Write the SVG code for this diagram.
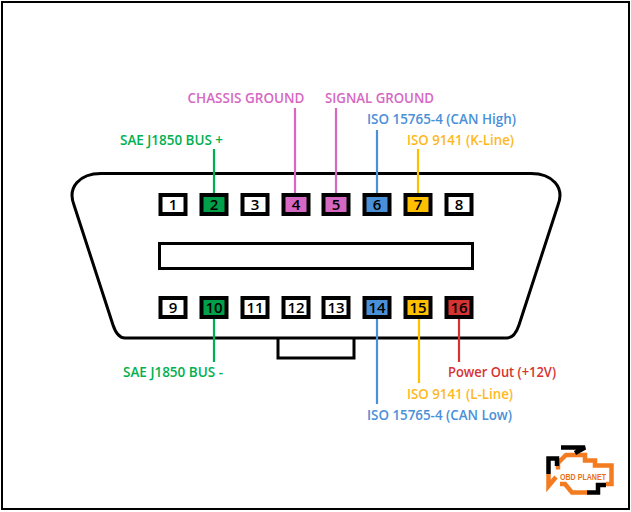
<svg xmlns="http://www.w3.org/2000/svg" width="631" height="512" viewBox="0 0 631 512">
<style>
.pin{stroke:#000;stroke-width:4;fill:#fff}
.n{font-family:"Open Sans","Liberation Sans",sans-serif;font-size:15px;font-weight:600;text-anchor:middle;fill:#000}
.l{font-family:"Open Sans","Liberation Sans",sans-serif;font-size:14px;font-weight:600;text-anchor:start}
.c{stroke-width:2.200;fill:none}
.s{fill:none;stroke:#000;stroke-width:3}
.lo{fill:none;stroke:#f47c20;stroke-width:4.500;stroke-linejoin:miter}
.lb{fill:none;stroke:#000;stroke-width:4.500;stroke-linejoin:miter}
</style>
<rect width="631" height="512" fill="#fff"/>
<rect id="frame" x="2" y="2" width="627" height="507" fill="none" stroke="#000" stroke-width="2"/>
<g id="connector-body">
<path class="s" d="M278 338V358H354V338"/>
<path class="s" d="M101 173.500H531C552 173.500 565 187 558 205L519 325C516 334 512 338 507 338H125C120 338 116 334 113 325L74 205C67 187 80 173.500 101 173.500Z"/>
<rect class="s" x="159.500" y="243.500" width="313" height="25"/>
</g>
<g id="connectors">
<path class="c" stroke="#00b050" d="M214 149V193M214 318V362"/>
<path class="c" stroke="#d668c4" d="M295 108V193M336 108V193"/>
<path class="c" stroke="#4a90d9" d="M377 130V193M377 318V404"/>
<path class="c" stroke="#ffc000" d="M418 149V193M419 318V383"/>
<path class="c" stroke="#d63333" d="M459 318V362"/>
</g>
<g id="pin1"><rect class="pin" x="160.500" y="195" width="25" height="19"/><text class="n" x="173" y="210">1</text></g>
<g id="pin2"><rect class="pin" x="201.500" y="195" width="25" height="19" style="fill:#00a04a"/><text class="n" x="214" y="210">2</text></g>
<g id="pin3"><rect class="pin" x="242.500" y="195" width="25" height="19"/><text class="n" x="255" y="210">3</text></g>
<g id="pin4"><rect class="pin" x="283.500" y="195" width="25" height="19" style="fill:#d668c4"/><text class="n" x="296" y="210">4</text></g>
<g id="pin5"><rect class="pin" x="323.500" y="195" width="25" height="19" style="fill:#d668c4"/><text class="n" x="336" y="210">5</text></g>
<g id="pin6"><rect class="pin" x="364.500" y="195" width="25" height="19" style="fill:#4a90d9"/><text class="n" x="377" y="210">6</text></g>
<g id="pin7"><rect class="pin" x="405.500" y="195" width="25" height="19" style="fill:#ffc000"/><text class="n" x="418" y="210">7</text></g>
<g id="pin8"><rect class="pin" x="446.500" y="195" width="25" height="19"/><text class="n" x="459" y="210">8</text></g>
<g id="pin9"><rect class="pin" x="160.500" y="298" width="25" height="19"/><text class="n" x="173" y="313">9</text></g>
<g id="pin10"><rect class="pin" x="201.500" y="298" width="25" height="19" style="fill:#00a04a"/><text class="n" x="214" y="313">10</text></g>
<g id="pin11"><rect class="pin" x="242.500" y="298" width="25" height="19"/><text class="n" x="255" y="313">11</text></g>
<g id="pin12"><rect class="pin" x="283.500" y="298" width="25" height="19"/><text class="n" x="296" y="313">12</text></g>
<g id="pin13"><rect class="pin" x="323.500" y="298" width="25" height="19"/><text class="n" x="336" y="313">13</text></g>
<g id="pin14"><rect class="pin" x="364.500" y="298" width="25" height="19" style="fill:#4a90d9"/><text class="n" x="377" y="313">14</text></g>
<g id="pin15"><rect class="pin" x="405.500" y="298" width="25" height="19" style="fill:#ffc000"/><text class="n" x="418" y="313">15</text></g>
<g id="pin16"><rect class="pin" x="446.500" y="298" width="25" height="19" style="fill:#d63333"/><text class="n" x="459" y="313">16</text></g>
<g id="labels">
<text class="l" x="187.500" y="103" fill="#d668c4" textLength="117" lengthAdjust="spacingAndGlyphs">CHASSIS GROUND</text>
<text class="l" x="325" y="103" fill="#d668c4" textLength="109" lengthAdjust="spacingAndGlyphs">SIGNAL GROUND</text>
<text class="l" x="367" y="124" fill="#4a90d9" textLength="149" lengthAdjust="spacingAndGlyphs">ISO 15765-4 (CAN High)</text>
<text class="l" x="407" y="145" fill="#ffb81c" textLength="107" lengthAdjust="spacingAndGlyphs">ISO 9141 (K-Line)</text>
<text class="l" x="120" y="145" fill="#00b050" textLength="103" lengthAdjust="spacingAndGlyphs">SAE J1850 BUS +</text>
<text class="l" x="123" y="377" fill="#00b050" textLength="100" lengthAdjust="spacingAndGlyphs">SAE J1850 BUS -</text>
<text class="l" x="448" y="377" fill="#d63333" textLength="108" lengthAdjust="spacingAndGlyphs">Power Out (+12V)</text>
<text class="l" x="407" y="399" fill="#ffb81c" textLength="106" lengthAdjust="spacingAndGlyphs">ISO 9141 (L-Line)</text>
<text class="l" x="367" y="420" fill="#4a90d9" textLength="145" lengthAdjust="spacingAndGlyphs">ISO 15765-4 (CAN Low)</text>
</g>
<g id="logo">
<path class="lo" d="M558 469.500V463L566 455H585V460.500H595V465.500H611.500V484H606"/>
<path class="lo" d="M560 484H565L572 492.500H587"/>
<path class="lo" d="M548.500 474V486L556 477"/>
<path class="lb" d="M561 447.500H585L575 453"/>
<path class="lb" d="M548.500 474V458.500H557V466"/>
<path class="lb" d="M587 492.500H598V485H606"/>
<text x="560" y="480" font-family="Liberation Sans, sans-serif" font-size="9" font-weight="700" fill="#e8701a" textLength="46" lengthAdjust="spacingAndGlyphs">OBD PLANET</text>
</g>
</svg>
